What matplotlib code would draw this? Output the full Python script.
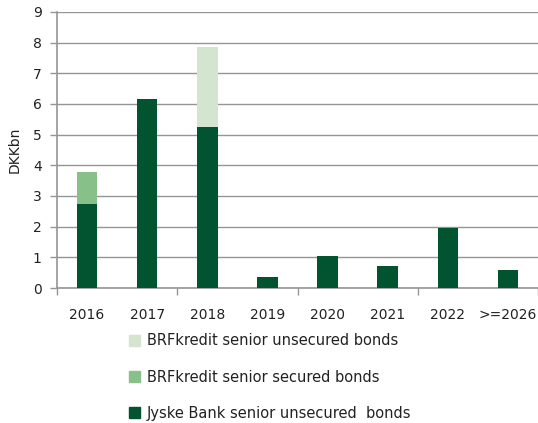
import matplotlib
matplotlib.use("Agg")
import matplotlib.pyplot as plt
from matplotlib.patches import Patch
import numpy as np

categories = ["2016", "2017", "2018", "2019", "2020", "2021", "2022", ">=2026"]
jyske_unsecured = [2.75, 6.16, 5.24, 0.35, 1.06, 0.73, 1.96, 0.60]
brf_secured = [1.02, 0, 0, 0, 0, 0, 0, 0]
brf_unsecured = [0, 0, 2.60, 0, 0, 0, 0, 0]
series_names = ["BRFkredit senior unsecured bonds", "BRFkredit senior secured bonds",
                "Jyske Bank senior unsecured  bonds"]

c_dark = "#02532F"
c_mid = "#88C08A"
c_light = "#D3E5CF"

fig = plt.figure(figsize=(5.38, 4.23), dpi=100)
ax = fig.add_axes([0.106, 0.319, 0.894, 0.653])
x = np.arange(len(categories))
w = 0.34
j = np.array(jyske_unsecured)
s = np.array(brf_secured)
u = np.array(brf_unsecured)
ax.bar(x, j, w, color=c_dark, zorder=3)
ax.bar(x, s, w, bottom=j, color=c_mid, zorder=3)
ax.bar(x, u, w, bottom=j + s, color=c_light, zorder=3)

ax.set_xlim(-0.5, 7.5)
ax.set_ylim(0, 9)
ax.set_yticks(range(0, 10))
ax.yaxis.grid(True, color="#959595", linewidth=1.0, zorder=0)
ax.set_axisbelow(True)
for sp in ["top", "right"]:
    ax.spines[sp].set_visible(False)
for sp in ["left", "bottom"]:
    ax.spines[sp].set_color("#959595")
    ax.spines[sp].set_linewidth(1.2)

ax.set_xticks([-0.5, 1.5, 3.5, 5.5, 7.5])
ax.set_xticklabels([])
ax.set_xticks(x, minor=True)
ax.set_xticklabels(categories, minor=True)
ax.tick_params(axis="x", which="major", length=5, color="#959595", width=1)
ax.tick_params(axis="x", which="minor", length=0, pad=14, labelsize=10, labelcolor="#222222")
ax.tick_params(axis="y", length=5, color="#959595", width=1, labelsize=10, labelcolor="#222222", pad=6)
ax.set_ylabel("DKKbn", fontsize=10, color="#222222", labelpad=8)

handles = [Patch(color=c_light), Patch(color=c_mid), Patch(color=c_dark)]
fig.legend(handles, series_names, loc="upper left", bbox_to_anchor=(0.227, 0.229),
           frameon=False, fontsize=10.5, handlelength=0.75, handleheight=0.75,
           handletextpad=0.45, labelspacing=1.45, borderpad=0, labelcolor="#222222")

fig.savefig("out.png", dpi=100)
